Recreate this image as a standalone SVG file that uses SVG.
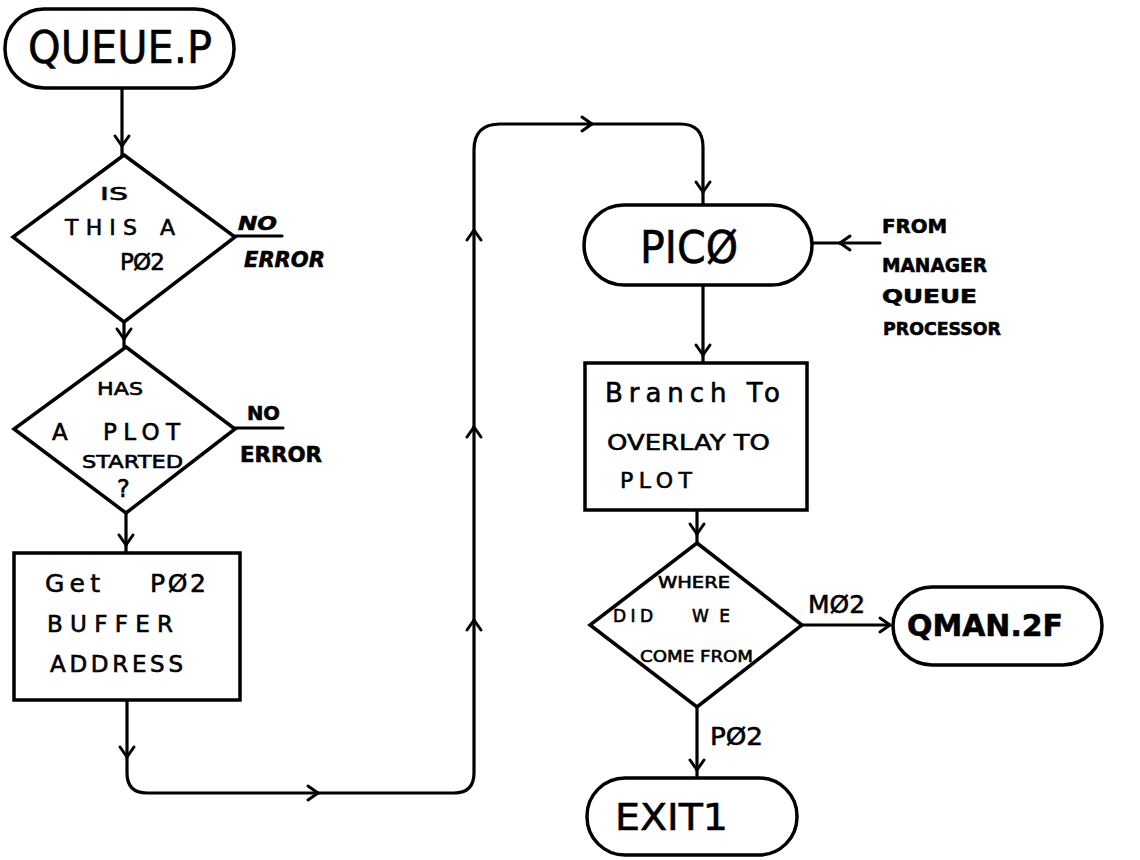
<svg xmlns="http://www.w3.org/2000/svg" width="1140" height="860" viewBox="0 0 1140 860">
<defs>
<marker id="chev" markerUnits="userSpaceOnUse" viewBox="-12 -10 14 20" markerWidth="14" markerHeight="20" refX="0" refY="0" orient="auto" overflow="visible">
<path d="M-10,-7 L0,0 L-10,7" fill="none" stroke="#000" stroke-width="3" stroke-linecap="round" stroke-linejoin="round"/>
</marker>
</defs>
<style>
.shape{fill:#fff;stroke:#000;stroke-width:3.5}
.line{fill:none;stroke:#000;stroke-width:3.2;stroke-linecap:round}
.t{font-family:"DejaVu Sans","Liberation Sans",sans-serif;fill:#000;stroke:#000;stroke-width:0.6}
.b{font-weight:bold}
</style>
<rect width="1140" height="860" fill="#fff"/>

<g id="connectors">
<path class="line" d="M122,88 V146" marker-end="url(#chev)"/>
<path class="line" d="M122,146 V155"/>
<path class="line" d="M124,322 V339" marker-end="url(#chev)"/>
<path class="line" d="M124,339 V347"/>
<path class="line" d="M126,513 V545" marker-end="url(#chev)"/>
<path class="line" d="M126,545 V553"/>
<path class="line" d="M127,700 V757" marker-end="url(#chev)"/>
<path class="line" d="M127,757 V773 Q127,793 147,793 H318" marker-end="url(#chev)"/>
<path class="line" d="M318,793 H454 Q474,793 474,773 V620" marker-end="url(#chev)"/>
<path class="line" d="M474,620 V427" marker-end="url(#chev)"/>
<path class="line" d="M474,427 V230" marker-end="url(#chev)"/>
<path class="line" d="M474,230 V150 Q474,124 500,124 H592" marker-end="url(#chev)"/>
<path class="line" d="M592,124 H680 Q703,124 703,147 V192" marker-end="url(#chev)"/>
<path class="line" d="M703,192 V205"/>
<path class="line" d="M880,243 H840" marker-end="url(#chev)"/>
<path class="line" d="M840,243 H813"/>
<path class="line" d="M703,285 V355" marker-end="url(#chev)"/>
<path class="line" d="M703,355 V363"/>
<path class="line" d="M697,510 V534" marker-end="url(#chev)"/>
<path class="line" d="M697,534 V543"/>
<path class="line" d="M802,625 H890" marker-end="url(#chev)"/>
<path class="line" d="M697,707 V770" marker-end="url(#chev)"/>
<path class="line" d="M697,770 V778"/>
<path class="line" d="M235,236 H282"/>
<path class="line" d="M235,428 H283"/>
</g>

<g id="queuep">
<rect class="shape" x="5" y="9" width="229" height="79" rx="39"/>
<text class="t" x="28" y="63" font-size="44" textLength="184" lengthAdjust="spacingAndGlyphs">QUEUE.P</text>
</g>

<g id="d1">
<polygon class="shape" points="124,155 235,237 124,322 13,237"/>
<text class="t" x="100" y="200" font-size="18" textLength="28" lengthAdjust="spacingAndGlyphs">IS</text>
<text class="t" x="65" y="235" font-size="22" textLength="72">THIS</text>
<text class="t" x="160" y="235" font-size="22">A</text>
<text class="t" x="120" y="270" font-size="23" textLength="45">PØ2</text>
</g>
<g id="err1">
<text class="t b" x="238" y="230" font-size="20" font-style="italic" textLength="39" lengthAdjust="spacingAndGlyphs">NO</text>
<text class="t b" x="244" y="267" font-size="22" font-style="italic" textLength="81" lengthAdjust="spacingAndGlyphs">ERROR</text>
</g>

<g id="d2">
<polygon class="shape" points="126,347 235,429 126,513 14,429"/>
<text class="t" x="97" y="395" font-size="18" textLength="46" lengthAdjust="spacingAndGlyphs">HAS</text>
<text class="t" x="52" y="440" font-size="23">A</text>
<text class="t" x="103" y="440" font-size="23" textLength="77">PLOT</text>
<text class="t" x="82" y="468" font-size="18" textLength="101" lengthAdjust="spacingAndGlyphs">STARTED</text>
<text class="t" x="117" y="497" font-size="24">?</text>
</g>
<g id="err2">
<text class="t b" x="247" y="420" font-size="19" textLength="33" lengthAdjust="spacingAndGlyphs">NO</text>
<text class="t b" x="240" y="462" font-size="22" textLength="82" lengthAdjust="spacingAndGlyphs">ERROR</text>
</g>

<g id="box1">
<rect class="shape" x="14" y="553" width="226" height="147"/>
<text class="t" x="45" y="592" font-size="25" textLength="55">Get</text>
<text class="t" x="150" y="592" font-size="25" textLength="56">PØ2</text>
<text class="t" x="47" y="632" font-size="23" textLength="126">BUFFER</text>
<text class="t" x="50" y="672" font-size="23" textLength="133">ADDRESS</text>
</g>

<g id="pico">
<rect class="shape" x="584" y="205" width="228" height="80" rx="40"/>
<text class="t" x="640" y="263" font-size="44" textLength="98" lengthAdjust="spacingAndGlyphs">PICØ</text>
</g>

<g id="from">
<text class="t b" x="882" y="233" font-size="19" textLength="65" lengthAdjust="spacingAndGlyphs">FROM</text>
<text class="t b" x="882" y="272" font-size="19" textLength="105" lengthAdjust="spacingAndGlyphs">MANAGER</text>
<text class="t b" x="882" y="303" font-size="19" textLength="95" lengthAdjust="spacingAndGlyphs">QUEUE</text>
<text class="t b" x="883" y="335" font-size="18" textLength="118" lengthAdjust="spacingAndGlyphs">PROCESSOR</text>
</g>

<g id="box2">
<rect class="shape" x="585" y="363" width="222" height="147"/>
<text class="t" x="605" y="402" font-size="26" textLength="175">Branch To</text>
<text class="t" x="607" y="450" font-size="22" textLength="163" lengthAdjust="spacingAndGlyphs">OVERLAY TO</text>
<text class="t" x="620" y="488" font-size="22" textLength="72">PLOT</text>
</g>

<g id="d3">
<polygon class="shape" points="697,543 802,625 697,707 590,625"/>
<text class="t" x="658" y="588" font-size="15" textLength="72" lengthAdjust="spacingAndGlyphs">WHERE</text>
<text class="t" x="613" y="622" font-size="17" textLength="40">DID</text>
<text class="t" x="692" y="622" font-size="17" textLength="38">WE</text>
<text class="t" x="640" y="662" font-size="16" textLength="113" lengthAdjust="spacingAndGlyphs">COME FROM</text>
</g>
<text class="t" x="808" y="613" font-size="24" textLength="57" lengthAdjust="spacingAndGlyphs">MØ2</text>
<text class="t" x="710" y="745" font-size="24" textLength="53" lengthAdjust="spacingAndGlyphs">PØ2</text>

<g id="qman">
<rect class="shape" x="893" y="587" width="209" height="78" rx="39"/>
<text class="t b" x="907" y="636" font-size="31" textLength="156" lengthAdjust="spacingAndGlyphs">QMAN.2F</text>
</g>

<g id="exit">
<rect class="shape" x="587" y="778" width="210" height="77" rx="38"/>
<text class="t" x="615" y="830" font-size="37" textLength="113" lengthAdjust="spacingAndGlyphs">EXIT1</text>
</g>
</svg>
